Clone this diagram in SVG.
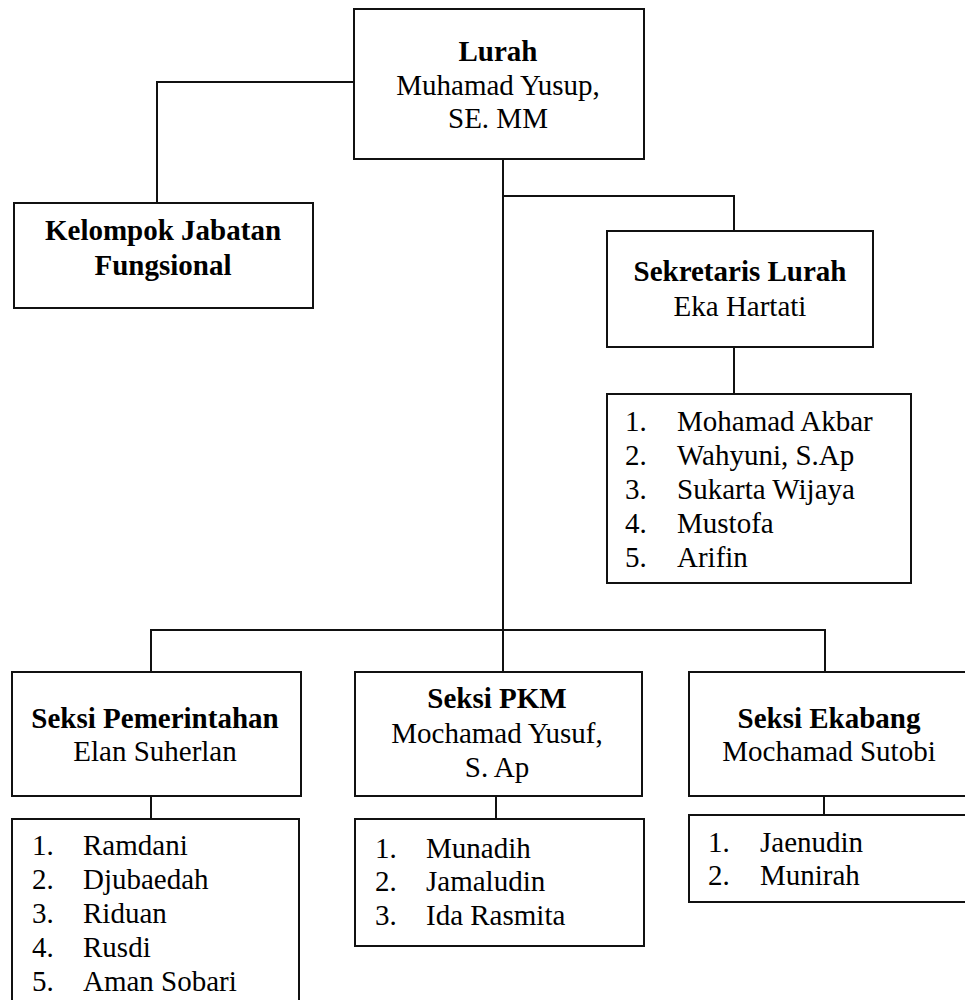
<svg xmlns="http://www.w3.org/2000/svg" width="965" height="1000" viewBox="0 0 965 1000">
<style>
.box{fill:#fff;stroke:#111;stroke-width:2}
.ln{fill:none;stroke:#111;stroke-width:2}
.t{font-family:'Liberation Serif','Times New Roman',Tinos,'DejaVu Serif',serif;font-size:29px;fill:#000}
.b{font-weight:bold}
.c{text-anchor:middle}
</style>
<rect width="965" height="1000" fill="#fff"/>
<g id="connectors">
<polyline class="ln" points="354,82 157,82 157,203"/>
<line class="ln" x1="503" y1="159" x2="503" y2="630"/>
<polyline class="ln" points="503,196 734,196 734,231"/>
<line class="ln" x1="734" y1="347" x2="734" y2="394"/>
<polyline class="ln" points="151,672 151,630 825,630 825,672"/>
<line class="ln" x1="503" y1="630" x2="503" y2="672"/>
<line class="ln" x1="151" y1="796" x2="151" y2="819"/>
<line class="ln" x1="496" y1="796" x2="496" y2="819"/>
<line class="ln" x1="824" y1="796" x2="824" y2="815"/>
</g>
<g id="lurah" class="t">
<rect class="box" x="354" y="9" width="290" height="150"/>
<text class="b c" x="498" y="61">Lurah</text>
<text class="c" x="498" y="95">Muhamad Yusup,</text>
<text class="c" x="498" y="128">SE. MM</text>
</g>
<g id="kelompok" class="t">
<rect class="box" x="14" y="203" width="299" height="105"/>
<text class="b c" x="163" y="240">Kelompok Jabatan</text>
<text class="b c" x="163" y="275">Fungsional</text>
</g>
<g id="sekretaris" class="t">
<rect class="box" x="607" y="231" width="266" height="116"/>
<text class="b c" x="740" y="281">Sekretaris Lurah</text>
<text class="c" x="740" y="316">Eka Hartati</text>
</g>
<g id="sekretaris-staff" class="t">
<rect class="box" x="607" y="394" width="304" height="189"/>
<text x="625" y="431">1.</text><text x="677" y="431">Mohamad Akbar</text>
<text x="625" y="465">2.</text><text x="677" y="465">Wahyuni, S.Ap</text>
<text x="625" y="499">3.</text><text x="677" y="499">Sukarta Wijaya</text>
<text x="625" y="533">4.</text><text x="677" y="533">Mustofa</text>
<text x="625" y="567">5.</text><text x="677" y="567">Arifin</text>
</g>
<g id="pemerintahan" class="t">
<rect class="box" x="12" y="672" width="289" height="124"/>
<text class="b c" x="155" y="728">Seksi Pemerintahan</text>
<text class="c" x="155" y="761">Elan Suherlan</text>
</g>
<g id="pemerintahan-staff" class="t">
<rect class="box" x="12" y="819" width="287" height="200"/>
<text x="32" y="855">1.</text><text x="83" y="855">Ramdani</text>
<text x="32" y="889">2.</text><text x="83" y="889">Djubaedah</text>
<text x="32" y="923">3.</text><text x="83" y="923">Riduan</text>
<text x="32" y="957">4.</text><text x="83" y="957">Rusdi</text>
<text x="32" y="991">5.</text><text x="83" y="991">Aman Sobari</text>
</g>
<g id="pkm" class="t">
<rect class="box" x="355" y="672" width="287" height="124"/>
<text class="b c" x="497" y="708">Seksi PKM</text>
<text class="c" x="497" y="743">Mochamad Yusuf,</text>
<text class="c" x="497" y="777">S. Ap</text>
</g>
<g id="pkm-staff" class="t">
<rect class="box" x="355" y="819" width="289" height="127"/>
<text x="375" y="858">1.</text><text x="426" y="858">Munadih</text>
<text x="375" y="891">2.</text><text x="426" y="891">Jamaludin</text>
<text x="375" y="925">3.</text><text x="426" y="925">Ida Rasmita</text>
</g>
<g id="ekabang" class="t">
<rect class="box" x="689" y="672" width="290" height="124"/>
<text class="b c" x="829" y="728">Seksi Ekabang</text>
<text class="c" x="829" y="761">Mochamad Sutobi</text>
</g>
<g id="ekabang-staff" class="t">
<rect class="box" x="689" y="815" width="290" height="87"/>
<text x="708" y="852">1.</text><text x="760" y="852">Jaenudin</text>
<text x="708" y="885">2.</text><text x="760" y="885">Munirah</text>
</g>
</svg>
